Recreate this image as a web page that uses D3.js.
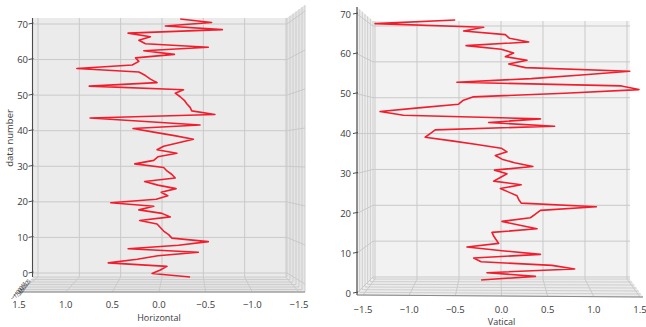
<!DOCTYPE html>
<html>
<head>
<meta charset="utf-8">
<script src="https://cdn.jsdelivr.net/npm/d3@7"></script>
<style>
  body { margin: 0; background: #fff; }
  svg { display: block; font-family: "Open Sans", "DejaVu Sans", sans-serif; }
</style>
</head>
<body>
<svg id="chart" width="646" height="327"></svg>
<script>
// values, one per data number (bottom -> top)
const horizontal = [
  -0.34, 0.12, 0.02, -0.06, 0.65, 0.30, 0.05, -0.44, 0.41, -0.20,
  -0.56, -0.12, -0.08, -0.02, 0.02, 0.06, 0.27, -0.10, 0.00, 0.28,
  0.10, 0.62, 0.07, -0.07, 0.01, -0.17, 0.05, 0.21, -0.16, -0.12,
  -0.06, -0.02, 0.33, 0.10, 0.05, -0.18, 0.06, -0.02, -0.20, -0.38,
  -0.15, 0.10, 0.35, -0.46, 0.20, 0.87, -0.64, -0.36, -0.34, -0.30,
  -0.27, -0.22, -0.16, -0.26, 0.88, 0.06, 0.14, 0.20, 0.28, 1.03,
  0.36, 0.28, 0.32, -0.15, 0.22, -0.56, 0.20, 0.28, 0.14, 0.41,
  -0.73, -0.04, -0.60, -0.22
];
const vatical = [
  -0.25, 0.40, -0.18, 0.87, 0.60, -0.25, -0.34, 0.46, 0.00, -0.42,
  -0.04, -0.07, -0.10, -0.12, 0.42, 0.20, 0.00, 0.34, 0.40, 0.46,
  1.13, 0.23, 0.20, 0.18, 0.08, -0.02, 0.23, -0.10, -0.02, 0.06,
  -0.09, 0.37, 0.15, 0.00, -0.08, 0.06, -0.01, -0.30, -0.60, -0.92,
  -0.86, -0.80, 0.63, -0.16, 0.46, -1.18, -1.46, -1.00, -0.52, -0.47,
  -0.35, 0.75, 1.64, 1.43, -0.54, 0.35, 0.95, 1.53, 0.28, 0.08,
  0.30, 0.04, 0.14, -0.01, -0.43, 0.32, 0.09, 0.04, -0.46, -0.22,
  -1.52, -0.56
];
const zTicks = [0, 10, 20, 30, 40, 50, 60, 70];
const valueTicks = [-1.5, -1.0, -0.5, 0.0, 0.5, 1.0, 1.5];
const depthTicks = [-1.5, -1.0, -0.5, 0.0, 0.5, 1.0, 1.5];

const svg = d3.select('#chart');
const fmt = v => d3.format('.1f')(v).replace('-', '\u2212');
const lerp = (a, b, t) => a + (b - a) * t;
const GRID = '#c9c9c9';
const AXIS = '#4a4a4a';
const TEXT = '#3a3a3a';

function drawPanel(cfg) {
  const g = svg.append('g');

  // back pane scales, front edge scales, and the scales of the red trace
  const xb = d3.scaleLinear().domain(cfg.valueDomain).range(cfg.backX);
  const zb = d3.scaleLinear().domain([0, 70]).range(cfg.backZ);
  const xf = d3.scaleLinear().domain(cfg.valueDomain).range(cfg.frontX);
  const zs = d3.scaleLinear().domain([0, 70]).range(cfg.sideZ);
  const xl = d3.scaleLinear().domain(cfg.valueDomain).range(cfg.lineX);
  const zl = d3.scaleLinear().domain([0, cfg.data.length - 1]).range(cfg.lineZ);
  const depth = d3.scaleLinear().domain([-1.5, 1.5]).range([0, 1]);

  const p = cfg.pane;
  const s = cfg.side;
  const f = cfg.floor;

  // back pane
  g.append('rect')
    .attr('x', p.x0).attr('y', p.y0)
    .attr('width', p.x1 - p.x0).attr('height', p.y1 - p.y0)
    .attr('fill', cfg.paneFill);

  // side pane
  g.append('path')
    .attr('d', d3.line()([[s.backX, p.y0], [s.frontX, s.top], [s.frontX, s.bottom], [s.backX, p.y1]]) + 'Z')
    .attr('fill', cfg.sideFill);

  // floor
  g.append('path')
    .attr('d', d3.line()([[p.x0, p.y1], [p.x1, p.y1], [f.x1, f.y1], [f.x0, f.y0]]) + 'Z')
    .attr('fill', cfg.floorFill);

  // back grid
  g.selectAll('line.vg').data(valueTicks).join('line')
    .attr('x1', d => xb(d)).attr('x2', d => xb(d))
    .attr('y1', p.y0).attr('y2', p.y1)
    .attr('stroke', GRID).attr('stroke-width', 1);
  g.selectAll('line.hg').data(zTicks).join('line')
    .attr('x1', p.x0).attr('x2', p.x1)
    .attr('y1', d => zb(d)).attr('y2', d => zb(d))
    .attr('stroke', GRID).attr('stroke-width', 1);

  // side grid: z lines run from the back edge to the front edge
  g.selectAll('line.sg').data(zTicks).join('line')
    .attr('x1', s.backX).attr('x2', s.frontX)
    .attr('y1', d => zb(d)).attr('y2', d => zs(d))
    .attr('stroke', GRID).attr('stroke-width', 1);
  g.selectAll('line.sd').data(depthTicks).join('line')
    .attr('x1', d => lerp(s.backX, s.frontX, depth(d))).attr('x2', d => lerp(s.backX, s.frontX, depth(d)))
    .attr('y1', d => lerp(p.y0, s.top, depth(d))).attr('y2', d => lerp(p.y1, s.bottom, depth(d)))
    .attr('stroke', GRID).attr('stroke-width', 0.9);

  // floor grid
  g.selectAll('line.fg').data(valueTicks).join('line')
    .attr('x1', d => xb(d)).attr('x2', d => xf(d))
    .attr('y1', p.y1).attr('y2', d => lerp(f.y0, f.y1, (xf(d) - f.x0) / (f.x1 - f.x0)))
    .attr('stroke', GRID).attr('stroke-width', 1);
  g.selectAll('line.fd').data(depthTicks).join('line')
    .attr('x1', d => lerp(p.x0, f.x0, depth(d))).attr('x2', d => lerp(p.x1, f.x1, depth(d)))
    .attr('y1', d => lerp(p.y1, f.y0, depth(d))).attr('y2', d => lerp(p.y1, f.y1, depth(d)))
    .attr('stroke', GRID).attr('stroke-width', 0.9);

  // front edge
  g.append('line')
    .attr('x1', f.x0).attr('x2', f.x1).attr('y1', f.y0).attr('y2', f.y1)
    .attr('stroke', '#8a8a8a').attr('stroke-width', 1);

  // z axis
  g.append('line')
    .attr('x1', cfg.zAxisX).attr('x2', cfg.zAxisX)
    .attr('y1', cfg.zAxisTop).attr('y2', cfg.zAxisBottom)
    .attr('stroke', AXIS).attr('stroke-width', 1.1);
  const zt = cfg.zTickScale === 'side' ? zs : zb;
  g.selectAll('line.zt').data(zTicks).join('line')
    .attr('x1', cfg.zAxisX - 4).attr('x2', cfg.zAxisX + 1)
    .attr('y1', d => zt(d)).attr('y2', d => zt(d) - 1)
    .attr('stroke', AXIS).attr('stroke-width', 1);
  g.selectAll('text.zl').data(zTicks).join('text')
    .attr('x', cfg.zLabelX).attr('y', d => zt(d) + 3.5)
    .attr('text-anchor', 'end')
    .attr('font-size', 9.5).attr('fill', TEXT)
    .text(d => d);

  // value axis labels on the front edge
  g.selectAll('text.vl').data(valueTicks).join('text')
    .attr('x', d => xf(d)).attr('y', cfg.valueLabelY)
    .attr('text-anchor', 'middle')
    .attr('font-size', 9.5).attr('fill', TEXT)
    .text(d => fmt(d));
  g.append('text')
    .attr('x', xf(0)).attr('y', cfg.titleY)
    .attr('text-anchor', 'middle')
    .attr('font-size', 9).attr('fill', TEXT)
    .text(cfg.title);

  // the trace
  g.append('path')
    .datum(cfg.data)
    .attr('fill', 'none')
    .attr('stroke', '#f21d2c')
    .attr('stroke-width', 1.6)
    .attr('stroke-linejoin', 'round')
    .attr('d', d3.line().x(d => xl(d)).y((d, i) => zl(i)));

  return g;
}

const left = drawPanel({
  data: horizontal,
  valueDomain: [1.5, -1.5],
  backX: [38, 286], backZ: [273, 24],
  frontX: [19, 299],
  sideZ: [284, 11],
  lineX: [38, 286], lineZ: [277, 19],
  pane: { x0: 33, x1: 287, y0: 18, y1: 277 },
  side: { backX: 287, frontX: 305, top: 5, bottom: 292 },
  floor: { x0: 20, y0: 292, x1: 305, y1: 292 },
  paneFill: '#ebebeb', sideFill: '#e5e5e5', floorFill: '#e4e4e4',
  zAxisX: 32.5, zAxisTop: 18, zAxisBottom: 277, zTickScale: 'back', zLabelX: 28,
  valueLabelY: 308, titleY: 321, title: 'Horizontal'
});

// crowded depth labels at the lower left corner
left.selectAll('text.dl').data(depthTicks).join('text')
  .attr('transform', d => {
    const t = 1 - (d + 1.5) / 3;
    return `translate(${lerp(31, 22, t)},${lerp(282, 294, t)}) rotate(-35)`;
  })
  .attr('text-anchor', 'end')
  .attr('font-size', 6).attr('fill', TEXT)
  .text(d => fmt(d));

left.append('text')
  .attr('transform', 'translate(13,138) rotate(-90)')
  .attr('text-anchor', 'middle')
  .attr('font-size', 9.5).attr('fill', TEXT)
  .text('data number');

drawPanel({
  data: vatical,
  valueDomain: [-1.5, 1.5],
  backX: [375, 627], backZ: [277, 26],
  frontX: [363, 640],
  sideZ: [293, 14],
  lineX: [376.75, 627.25], lineZ: [280, 20],
  pane: { x0: 373, x1: 630, y0: 21, y1: 279 },
  side: { backX: 373, frontX: 357, top: 7, bottom: 295 },
  floor: { x0: 357, y0: 295, x1: 643, y1: 297 },
  paneFill: '#f2f2f2', sideFill: '#eeeeee', floorFill: '#ececec',
  zAxisX: 357, zAxisTop: 7, zAxisBottom: 295, zTickScale: 'side', zLabelX: 351,
  valueLabelY: 313, titleY: 325, title: 'Vatical'
});
</script>
</body>
</html>
